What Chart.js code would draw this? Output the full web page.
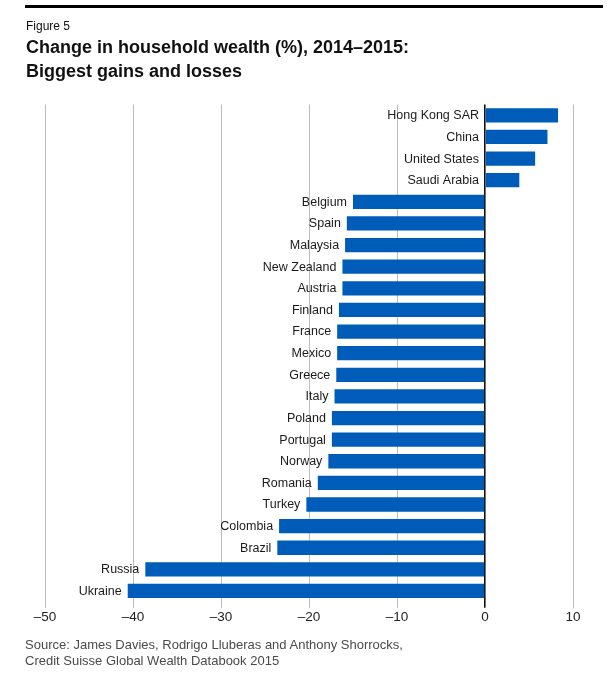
<!DOCTYPE html>
<html>
<head>
<meta charset="utf-8">
<script src="https://cdn.jsdelivr.net/npm/chart.js@4.4.1/dist/chart.umd.min.js"></script>
<style>
  html, body { margin:0; padding:0; background:#fff; }
  body { width:609px; height:683px; position:relative; overflow:hidden; font-family:"Liberation Sans", Arial, sans-serif; }
  #topline { position:absolute; left:25px; top:5px; width:578px; height:3px; background:#000; }
  #fig { position:absolute; left:26px; top:20px; font-size:12px; line-height:12px; color:#111; }
  #title { position:absolute; left:26px; top:36px; font-size:18px; line-height:23.5px; font-weight:bold; color:#111; white-space:nowrap; }
  #source { position:absolute; left:25px; top:637px; font-size:13px; line-height:16px; color:#4a4a4a; white-space:nowrap; }
  #c { position:absolute; left:0; top:0; }
</style>
</head>
<body>
<canvas id="c" width="609" height="683"></canvas>
<div id="topline"></div>
<div id="fig">Figure 5</div>
<div id="title">Change in household wealth (%), 2014–2015:<br>Biggest gains and losses</div>
<div id="source">Source: James Davies, Rodrigo Lluberas and Anthony Shorrocks,<br>Credit Suisse Global Wealth Databook 2015</div>
<script>
const categories = ['Hong Kong SAR','China','United States','Saudi Arabia','Belgium','Spain','Malaysia','New Zealand','Austria','Finland','France','Mexico','Greece','Italy','Poland','Portugal','Norway','Romania','Turkey','Colombia','Brazil','Russia','Ukraine'];
const wealthChange = [8.3, 7.1, 5.7, 3.9, -15.0, -15.7, -15.9, -16.2, -16.2, -16.6, -16.8, -16.8, -16.9, -17.1, -17.4, -17.4, -17.8, -19.0, -20.3, -23.4, -23.6, -38.6, -40.6];
const xTicks = [-50, -40, -30, -20, -10, 0, 10];

const barLabels = {
  id: 'barLabels',
  afterDatasetsDraw(chart) {
    const ctx = chart.ctx;
    const xs = chart.scales.x;
    const meta = chart.getDatasetMeta(0);
    ctx.save();
    ctx.font = '12.5px "Liberation Sans", Arial, sans-serif';
    ctx.fillStyle = '#1a1a1a';
    ctx.textAlign = 'right';
    ctx.textBaseline = 'middle';
    meta.data.forEach((bar, i) => {
      const v = wealthChange[i];
      const x = xs.getPixelForValue(Math.min(v, 0)) - 6;
      ctx.fillText(categories[i], x, bar.y + 0.5);
    });
    ctx.restore();
  }
};

new Chart(document.getElementById('c'), {
  type: 'bar',
  data: {
    labels: categories,
    datasets: [{
      data: wealthChange,
      backgroundColor: '#005cb9',
      borderWidth: 0,
      barPercentage: 0.66,
      categoryPercentage: 1.0
    }]
  },
  options: {
    indexAxis: 'y',
    responsive: false,
    animation: false,
    devicePixelRatio: 1,
    layout: { padding: { left: 45, right: 36, top: 104.5, bottom: 57 } },
    plugins: { legend: { display: false }, tooltip: { enabled: false }, title: { display: false } },
    scales: {
      x: {
        type: 'linear',
        position: 'bottom',
        min: -50,
        max: 10,
        afterBuildTicks(scale) { scale.ticks = xTicks.map(v => ({ value: v })); },
        ticks: {
          padding: 1,
          color: '#222',
          font: { family: '"Liberation Sans", Arial, sans-serif', size: 13.5 },
          callback: (v) => String(v).replace('-', '\u2013')
        },
        grid: {
          drawTicks: true,
          tickLength: 6,
          color: (c) => (c.tick && c.tick.value === 0) ? '#111' : '#bdbdbd',
          lineWidth: (c) => (c.tick && c.tick.value === 0) ? 1.6 : 1
        },
        border: { display: false }
      },
      y: {
        type: 'category',
        display: false,
        offset: true,
        grid: { display: false }
      }
    }
  },
  plugins: [barLabels]
});
</script>
</body>
</html>
